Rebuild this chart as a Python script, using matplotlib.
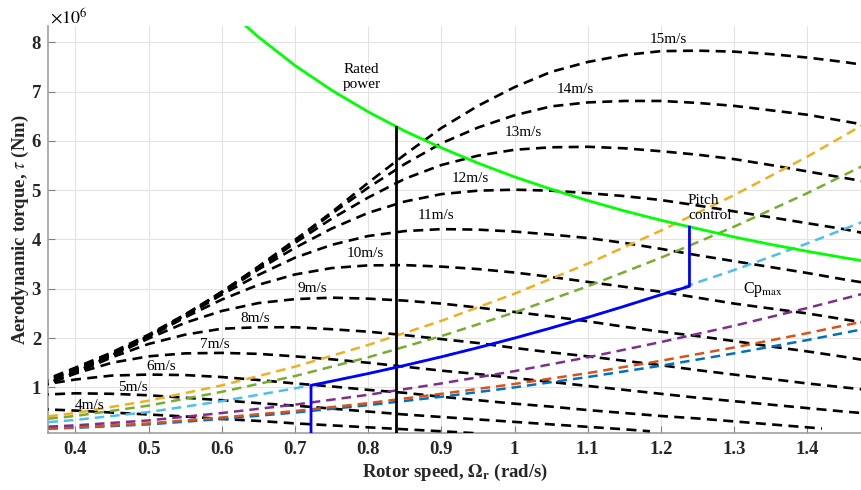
import matplotlib
matplotlib.use("Agg")
import matplotlib.pyplot as plt

plt.rcParams['font.family'] = ['Liberation Serif', 'DejaVu Serif']
plt.rcParams['mathtext.fontset'] = 'stix'

# ---------------- data (torque in 1e6 Nm, rotor speed in rad/s) ----------------
omega = [0.35, 0.40, 0.45, 0.50, 0.55, 0.60, 0.65, 0.70, 0.75, 0.80, 0.85, 0.90,
         0.95, 1.00, 1.05, 1.10, 1.15, 1.20, 1.25, 1.30, 1.35, 1.40, 1.45, 1.50]
tau_15 = [1.10, 1.40, 1.71, 2.07, 2.48, 2.93, 3.45, 3.99, 4.55, 5.15, 5.72, 6.26,
          6.71, 7.09, 7.40, 7.60, 7.74, 7.82, 7.83, 7.81, 7.76, 7.69, 7.60, 7.49]
tau_14 = [1.08, 1.37, 1.69, 2.04, 2.46, 2.94, 3.44, 3.96, 4.52, 5.05, 5.53, 5.95,
          6.27, 6.52, 6.70, 6.78, 6.81, 6.81, 6.77, 6.71, 6.62, 6.53, 6.40, 6.27]
tau_13 = [1.07, 1.35, 1.66, 2.04, 2.47, 2.93, 3.41, 3.93, 4.42, 4.85, 5.23, 5.51,
          5.70, 5.82, 5.87, 5.88, 5.85, 5.79, 5.72, 5.63, 5.51, 5.38, 5.25, 5.12]
tau_12 = [1.04, 1.32, 1.66, 2.04, 2.47, 2.91, 3.39, 3.83, 4.22, 4.54, 4.77, 4.92,
          4.99, 5.01, 4.99, 4.94, 4.88, 4.80, 4.69, 4.57, 4.45, 4.33, 4.21, 4.06]
tau_11 = [1.02, 1.31, 1.65, 2.04, 2.44, 2.88, 3.28, 3.63, 3.89, 4.07, 4.17, 4.21,
          4.20, 4.16, 4.10, 4.03, 3.93, 3.81, 3.68, 3.56, 3.44, 3.32, 3.19, 3.07]
tau_10 = [1.00, 1.30, 1.65, 2.02, 2.42, 2.78, 3.08, 3.29, 3.42, 3.475, 3.48, 3.45,
          3.40, 3.33, 3.24, 3.14, 3.04, 2.94, 2.82, 2.70, 2.60, 2.50, 2.38, 2.26]
tau_9 = [1.00, 1.30, 1.64, 1.99, 2.31, 2.55, 2.71, 2.79, 2.82, 2.80, 2.76, 2.70,
         2.62, 2.53, 2.44, 2.34, 2.23, 2.13, 2.04, 1.94, 1.83, 1.73, 1.62, 1.50]
tau_8 = [1.00, 1.29, 1.61, 1.88, 2.07, 2.19, 2.22, 2.22, 2.18, 2.13, 2.06, 1.98,
         1.90, 1.80, 1.71, 1.63, 1.54, 1.45, 1.35, 1.26, 1.17, 1.08, 1.00, 0.92]
tau_7 = [1.00, 1.28, 1.50, 1.63, 1.69, 1.70, 1.68, 1.63, 1.57, 1.50, 1.42, 1.34,
         1.27, 1.19, 1.11, 1.03, 0.95, 0.87, 0.79, 0.72, 0.65, 0.58, 0.51, 0.45]
omega_6 = [0.35, 0.40, 0.45, 0.50, 0.55, 0.60, 0.65, 0.70, 0.75, 0.80, 0.85, 0.90,
           0.95, 1.00, 1.05, 1.10, 1.15, 1.20, 1.25, 1.30, 1.35, 1.40, 1.42]
tau_6 = [1.04, 1.16, 1.24, 1.26, 1.25, 1.21, 1.15, 1.08, 1.02, 0.95, 0.89, 0.81,
         0.74, 0.67, 0.61, 0.54, 0.48, 0.42, 0.37, 0.31, 0.25, 0.19, 0.165]
omega_5 = [0.35, 0.40, 0.45, 0.50, 0.55, 0.60, 0.65, 0.70, 0.75, 0.80, 0.85, 0.90,
           0.95, 1.00, 1.05, 1.10, 1.15, 1.185]
tau_5 = [0.85, 0.88, 0.87, 0.84, 0.79, 0.74, 0.68, 0.63, 0.57, 0.51, 0.45, 0.40,
         0.35, 0.30, 0.25, 0.20, 0.15, 0.11]
omega_4 = [0.35, 0.40, 0.45, 0.50, 0.55, 0.60, 0.65, 0.70, 0.75, 0.80, 0.85, 0.90, 0.948]
tau_4 = [0.56, 0.53, 0.49, 0.45, 0.41, 0.36, 0.32, 0.27, 0.23, 0.19, 0.15, 0.11, 0.07]

wind_labels = ['15m/s', '14m/s', '13m/s', '12m/s', '11m/s', '10m/s',
               '9m/s', '8m/s', '7m/s', '6m/s', '5m/s', '4m/s']
label_x = [1.210, 1.083, 1.012, 0.939, 0.893, 0.796, 0.724, 0.646, 0.591, 0.518, 0.478, 0.420]
label_y = [8.06, 7.05, 6.17, 5.23, 4.48, 3.71, 3.00, 2.39, 1.88, 1.42, 1.00, 0.63]

# coloured (Cp) curves
omega_cp = [0.30, 0.40, 0.50, 0.60, 0.70, 0.80, 0.90, 1.00, 1.10, 1.20, 1.30, 1.40, 1.50]
cp_yellow = [0.30, 0.48, 0.73, 1.04, 1.42, 1.86, 2.35, 2.90, 3.51, 4.18, 4.90, 5.68, 6.53]
cp_green = [0.27, 0.42, 0.63, 0.91, 1.23, 1.61, 2.04, 2.52, 3.05, 3.63, 4.26, 4.94, 5.67]
cp_lblue = [0.22, 0.34, 0.50, 0.72, 0.98, 1.28, 1.62, 2.00, 2.42, 2.88, 3.38, 3.92, 4.50]
cp_purple = [0.16, 0.23, 0.33, 0.48, 0.65, 0.85, 1.08, 1.33, 1.61, 1.92, 2.25, 2.61, 2.99]
cp_orange = [0.14, 0.19, 0.27, 0.39, 0.52, 0.68, 0.87, 1.07, 1.29, 1.54, 1.81, 2.10, 2.41]
cp_blue = [0.13, 0.18, 0.25, 0.36, 0.49, 0.64, 0.81, 1.00, 1.21, 1.44, 1.69, 1.96, 2.25]

# rated power curve
omega_rated = [0.63, 0.65, 0.70, 0.75, 0.80, 0.85, 0.90, 0.95, 1.00, 1.05, 1.10,
               1.15, 1.20, 1.25, 1.30, 1.35, 1.40, 1.45, 1.50]
tau_rated = [8.37, 8.11, 7.53, 7.03, 6.59, 6.20, 5.86, 5.55, 5.27, 5.02, 4.79,
             4.58, 4.39, 4.22, 4.05, 3.90, 3.76, 3.63, 3.51]

# rated-speed vertical line
omega_vline = [0.838, 0.838]
tau_vline = [0.0, 6.28]

# operating trajectory
omega_op = [0.722, 0.722, 0.75, 0.80, 0.85, 0.90, 0.95, 1.00, 1.05, 1.10, 1.15, 1.20, 1.239, 1.239]
tau_op = [0.0, 1.04, 1.125, 1.28, 1.445, 1.62, 1.805, 2.00, 2.205, 2.42, 2.645, 2.88, 3.05, 4.25]

x_ticks = [0.4, 0.5, 0.6, 0.7, 0.8, 0.9, 1.0, 1.1, 1.2, 1.3, 1.4]
x_tick_labels = ['0.4', '0.5', '0.6', '0.7', '0.8', '0.9', '1', '1.1', '1.2', '1.3', '1.4']
y_ticks = [1, 2, 3, 4, 5, 6, 7, 8]
y_tick_labels = ['1', '2', '3', '4', '5', '6', '7', '8']

# ---------------- figure ----------------
W, H = 862, 490
fig = plt.figure(figsize=(W / 100, H / 100), dpi=100)
ax = fig.add_axes([48 / W, 57 / H, 814 / W, 407 / H])

black_kw = dict(color='black', lw=1.9, dashes=(3.8, 2.4))
curves = [(omega, tau_15), (omega, tau_14), (omega, tau_13), (omega, tau_12),
          (omega, tau_11), (omega, tau_10), (omega, tau_9), (omega, tau_8),
          (omega, tau_7), (omega_6, tau_6), (omega_5, tau_5), (omega_4, tau_4)]
for xs, ys in curves:
    ax.plot(xs, ys, **black_kw, zorder=3)

cp_colors = ['#0072BD', '#D95319', '#EDB120', '#7E2F8E', '#77AC30', '#4DBEEE']
cp_series = [cp_blue, cp_orange, cp_yellow, cp_purple, cp_green, cp_lblue]
for c, ys in zip(cp_colors, cp_series):
    ax.plot(omega_cp, ys, color=c, lw=1.8, dashes=(3.8, 2.4), zorder=3)

ax.plot(omega_rated, tau_rated, color='#00FF00', lw=2.0, zorder=4)
ax.plot(omega_vline, tau_vline, color='black', lw=2.0, zorder=4)
ax.plot(omega_op, tau_op, color='#0000FF', lw=2.0, zorder=5)

for t, x, y in zip(wind_labels, label_x, label_y):
    ax.text(x, y, t, fontsize=11, ha='center', va='center', zorder=6)

ax.text(0.766, 7.30, 'Rated\npower', fontsize=11, ha='left', va='center', zorder=6)
ax.text(1.237, 4.64, 'Pitch\ncontrol', fontsize=11, ha='left', va='center', zorder=6)
ax.text(1.312, 2.98, r'Cp$_{\mathrm{max}}$', fontsize=11.5, ha='left', va='center', zorder=6)

ax.set_xlim(0.3627, 1.4747)
ax.set_ylim(0.075, 8.33)
ax.set_xticks(x_ticks)
ax.set_xticklabels(x_tick_labels)
ax.set_yticks(y_ticks)
ax.set_yticklabels(y_tick_labels)

for lab in ax.get_xticklabels() + ax.get_yticklabels():
    lab.set_fontweight('bold')
    lab.set_fontsize(13.5)
    lab.set_color('#262626')

ax.tick_params(axis='both', direction='in', length=5, width=0.8, color='#808080')
ax.tick_params(axis='x', pad=6)
ax.tick_params(axis='y', pad=5)

for s in ['top', 'right']:
    ax.spines[s].set_visible(False)
for s in ['left', 'bottom']:
    ax.spines[s].set_color('#a0a0a0')
    ax.spines[s].set_linewidth(1.2)

ax.grid(True, color='#e3e3e3', lw=0.8, zorder=0)
ax.set_axisbelow(True)

ax.text(0.003, 0.998, r'$\times10^{6}$', transform=ax.transAxes, fontsize=13,
        ha='left', va='bottom')

fig.text(455 / W, 1 - 472 / H, r'Rotor speed, $\mathbf{\Omega}_{\mathbf{r}}$ (rad/s)',
         fontsize=13.5, fontweight='bold', ha='center', va='center', color='#262626')
fig.text(20 / W, 1 - 230 / H, r'Aerodynamic torque, $\tau$ (Nm)',
         fontsize=13.5, fontweight='bold', ha='center', va='center', rotation=90,
         color='#262626')

fig.savefig('out.png', dpi=100)
